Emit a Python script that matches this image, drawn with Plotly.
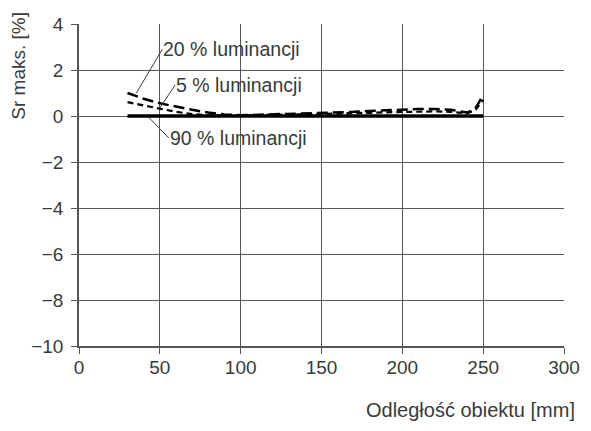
import plotly.graph_objects as go

# Odległość obiektu [mm]
distance = [30, 40, 50, 60, 70, 80, 90, 100, 110, 120, 130, 140, 150, 160,
            170, 180, 190, 200, 210, 220, 230, 240, 245, 250]

# Sr maks. [%]
lum_20 = [1.0, 0.75, 0.55, 0.4, 0.27, 0.15, 0.07, 0.03, 0.05, 0.08, 0.08, 0.1,
          0.12, 0.15, 0.18, 0.22, 0.25, 0.28, 0.3, 0.3, 0.27, 0.15, 0.3, 0.9]
lum_5 = [0.6, 0.45, 0.3, 0.18, 0.08, 0.03, 0.02, 0.02, 0.04, 0.05, 0.06, 0.07,
         0.08, 0.1, 0.12, 0.14, 0.16, 0.18, 0.2, 0.2, 0.18, 0.12, 0.25, 0.7]
lum_90 = [0.0] * len(distance)

x_ticks = [0, 50, 100, 150, 200, 250, 300]
y_ticks = [4, 2, 0, -2, -4, -6, -8, -10]

# label text, label anchor (x, y), curve point (x, y)
labels = [
    ("20 % luminancji", (51.5, 2.9), (35.5, 1.0)),
    ("5 % luminancji", (59.5, 1.35), (50.0, 0.35)),
    ("90 % luminancji", (55.5, -0.95), (43.0, -0.05)),
]

FONT = "Liberation Sans"
GREY = "#3a3a3a"
GRID = "#555555"

fig = go.Figure()

fig.add_trace(go.Scatter(x=distance, y=lum_90, mode="lines",
                         line=dict(color="black", width=3.5), name="90 %"))
fig.add_trace(go.Scatter(x=distance, y=lum_5, mode="lines",
                         line=dict(color="black", width=2.2, dash="6px,4px"),
                         name="5 %"))
fig.add_trace(go.Scatter(x=distance, y=lum_20, mode="lines",
                         line=dict(color="black", width=2.5, dash="11px,5px"),
                         name="20 %"))

# leader lines + labels
for text, (tx, ty), (px, py) in labels:
    fig.add_trace(go.Scatter(x=[tx, px], y=[ty, py], mode="lines",
                             line=dict(color=GREY, width=1), hoverinfo="skip"))
    fig.add_annotation(x=tx, y=ty, text=text, showarrow=False,
                       xanchor="left", yanchor="middle", xshift=-1,
                       font=dict(family=FONT, size=19.5, color=GREY))

# axis titles
fig.add_annotation(xref="paper", yref="paper", x=1.027, y=-0.199,
                   text="Odległość obiektu [mm]", showarrow=False,
                   xanchor="right", yanchor="middle",
                   font=dict(family=FONT, size=20, color=GREY))
fig.add_annotation(xref="paper", yref="paper", x=-0.124, y=0.87,
                   text="Sr maks. [%]", showarrow=False, textangle=-90,
                   xanchor="center", yanchor="middle",
                   font=dict(family=FONT, size=19, color=GREY))

fig.update_layout(
    width=591, height=431,
    margin=dict(l=71, r=35, t=16, b=93),
    plot_bgcolor="white", paper_bgcolor="white",
    showlegend=False,
    font=dict(family=FONT, size=19, color=GREY),
)
fig.update_xaxes(range=[0, 300], tickvals=x_ticks, showgrid=True,
                 gridcolor=GRID, gridwidth=1, showline=True, linecolor=GRID,
                 linewidth=1.5, ticks="outside", ticklen=6, tickcolor=GRID,
                 zeroline=False, automargin=False, ticklabelstandoff=-3)
fig.update_yaxes(range=[-10, 4], tickvals=y_ticks, showgrid=True,
                 gridcolor=GRID, gridwidth=1, showline=True, linecolor=GRID,
                 linewidth=1.5, ticks="outside", ticklen=6, tickcolor=GRID,
                 zeroline=False, automargin=False, ticklabelstandoff=4)

fig.write_html("out.html")
